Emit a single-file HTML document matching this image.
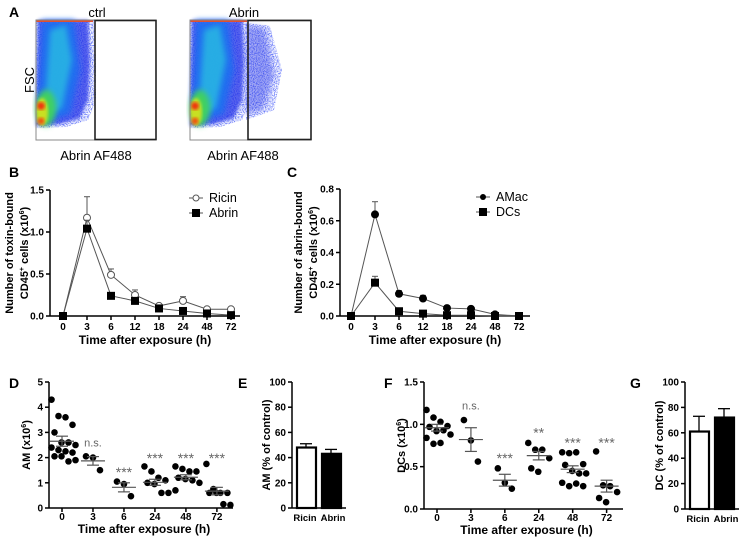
<!DOCTYPE html>
<html><head><meta charset="utf-8"><style>
body{margin:0;background:#fff;font-family:"Liberation Sans",Arial,sans-serif}
svg text{font-family:"Liberation Sans",Arial,sans-serif}
.b{font-weight:bold}
</style></head><body>
<svg id="fig" width="750" height="539" viewBox="0 0 750 539" xmlns="http://www.w3.org/2000/svg">
<defs>
<filter id="bl" x="-20%" y="-20%" width="140%" height="140%"><feGaussianBlur stdDeviation="3"/></filter>
<filter id="bl2"><feGaussianBlur stdDeviation="1.5"/></filter>
<filter id="speck" x="0" y="0" width="100%" height="100%">
<feTurbulence type="fractalNoise" baseFrequency="0.9" numOctaves="1" result="n"/>
<feColorMatrix in="n" type="matrix" values="0 0 0 0 0.1  0 0 0 0 0.15  0 0 0 0 0.95  0 0 0 3 -1.2" result="c"/>
<feComposite in="c" in2="SourceGraphic" operator="in"/>
</filter>
<g id="flowbase">
<polygon points="0,0 58,0 60,40 60,80 52,100 30,107 0,108" fill="#fff" filter="url(#speck)"/>
<polygon points="2,0 52,0 54,40 52,80 44,98 24,104 0,106" fill="#2030e8" opacity="0.75" filter="url(#bl2)"/>
<polygon points="6,0 38,0 44,50 34,94 10,102 2,80" fill="#1a70f0" opacity="0.9" filter="url(#bl)"/>
<polygon points="14,10 30,5 36,40 26,88 8,98" fill="#29c8e0" opacity="0.7" filter="url(#bl)"/>
<ellipse cx="10" cy="88" rx="10" ry="18" fill="#3fd060" filter="url(#bl)"/>
<ellipse cx="6" cy="92" rx="6" ry="14" fill="#c8e020" filter="url(#bl2)"/>
<circle cx="5" cy="86" r="4" fill="#f03010" filter="url(#bl2)"/>
<circle cx="5" cy="101" r="3.5" fill="#f05010" filter="url(#bl2)"/>
<rect x="0" y="0" width="57" height="2" fill="#e05030"/>
</g>
</defs>

<!-- Panel A -->
<text x="9" y="17" class="b" font-size="14">A</text>
<g transform="translate(36,20)">
<use href="#flowbase"/>
<rect x="0" y="0" width="120" height="120" fill="none" stroke="#888" stroke-width="1"/>
<rect x="59" y="0.5" width="61" height="119" fill="none" stroke="#222" stroke-width="1.6"/>
</g>
<g transform="translate(190,20)">
<polygon points="56,3 80,6 92,50 84,90 56,100" fill="#fff" filter="url(#speck)"/>
<polygon points="56,5 75,8 84,55 74,88 56,95" fill="#3040e8" opacity="0.45" filter="url(#bl)"/>
<use href="#flowbase"/>
<rect x="0" y="0" width="121" height="120" fill="none" stroke="#888" stroke-width="1"/>
<rect x="58" y="0.5" width="63" height="119" fill="none" stroke="#222" stroke-width="1.6"/>
</g>
<text x="97" y="17" font-size="13" text-anchor="middle">ctrl</text>
<text x="244" y="17" font-size="13" text-anchor="middle">Abrin</text>
<text x="96" y="160" font-size="13" text-anchor="middle">Abrin AF488</text>
<text x="243" y="160" font-size="13" text-anchor="middle">Abrin AF488</text>
<text transform="translate(34,80) rotate(-90)" font-size="13" text-anchor="middle">FSC</text>

<text x="9" y="177" class="b" font-size="14">B</text>
<text x="287" y="177" class="b" font-size="14">C</text>
<text x="9" y="388" class="b" font-size="14">D</text>
<text x="238" y="388" class="b" font-size="14">E</text>
<text x="384" y="388" class="b" font-size="14">F</text>
<text x="630" y="388" class="b" font-size="14">G</text>
</svg>
<script>
// ---- Panel B data
const bCats=["0","3","6","12","18","24","48","72"];
const bRicin=[0,1.17,0.49,0.25,0.12,0.18,0.08,0.08];
const bRicinErr=[0,0.25,0.07,0.06,0.02,0.05,0.01,0.01];
const bAbrin=[0,1.04,0.24,0.18,0.09,0.06,0.03,0.01];
const bAbrinErr=[0,0.1,0.01,0.02,0.01,0.01,0.01,0.01];
const bTicks=[0,0.5,1.0,1.5];
// ---- Panel C data
const cCats=["0","3","6","12","18","24","48","72"];
const cAMac=[0,0.64,0.14,0.11,0.05,0.045,0.01,0];
const cAMacErr=[0,0.08,0.02,0.02,0.005,0.005,0.005,0];
const cDCs=[0,0.21,0.03,0.015,0.005,0.005,0,0];
const cDCsErr=[0,0.04,0.005,0.005,0,0,0,0];
const cTicks=[0,0.2,0.4,0.6,0.8];
// ---- Panel D data
const dCats=["0","3","6","24","48","72"];
const dPoints=[[4.3,3.65,3.6,3.3,3.0,2.6,2.6,2.5,2.4,2.3,2.25,2.2,2.05,2.05,1.85,1.9],[2.05,2.0,1.5],[1.05,0.95,0.47],[1.65,1.45,1.2,1.1,1.0,0.95,0.6,0.6],[1.65,1.55,1.45,1.45,1.2,1.15,1.1,1.0,0.7],[1.75,0.75,0.6,0.6,0.6,0.6,0.15,0.12]];
const dMean=[2.65,1.87,0.82,1.02,1.22,0.67];
const dSem=[0.2,0.17,0.18,0.12,0.1,0.15];
const dSig=["","n.s.","***","***","***","***"];
const dSigVal=[0,2.6,1.55,2.1,2.1,2.1];
const dTicks=[0,1,2,3,4,5];
// ---- Panel E data
const eCats=["Ricin","Abrin"];
const eVals=[48,43];
const eErr=[3,3.5];
const eTicks=[0,20,40,60,80,100];
// ---- Panel F data
const fCats=["0","3","6","24","48","72"];
const fPoints=[[1.17,1.08,1.03,0.98,0.97,0.92,0.93,0.88,0.84,0.77,0.78],[1.05,0.81,0.56],[0.48,0.31,0.24],[0.78,0.7,0.7,0.6,0.48,0.44],[0.67,0.66,0.67,0.53,0.52,0.45,0.42,0.42,0.31,0.27,0.3,0.27],[0.68,0.28,0.27,0.2,0.13,0.08]];
const fMean=[0.96,0.82,0.34,0.63,0.47,0.27];
const fSem=[0.04,0.14,0.07,0.05,0.04,0.07];
const fSig=["","n.s.","***","**","***","***"];
const fSigVal=[0,1.22,0.64,0.94,0.82,0.82];
const fTicks=[0,0.5,1.0,1.5];
// ---- Panel G data
const gCats=["Ricin","Abrin"];
const gVals=[61,72];
const gErr=[12,7];
const gTicks=[0,20,40,60,80,100];

const svg=document.getElementById('fig');
const NS="http://www.w3.org/2000/svg";
function mk(tag,attrs,parent){const e=document.createElementNS(NS,tag);for(const k in attrs)e.setAttribute(k,attrs[k]);(parent||svg).appendChild(e);return e;}
function txt(x,y,s,size,anchor,bold,parent,fill){const t=mk('text',{x:x,y:y,'font-size':size,'text-anchor':anchor||'middle','font-weight':bold?'bold':'normal',fill:fill||'#000'},parent);t.textContent=s;return t;}

function yAxis(g,x,y0,y1,vmax,ticks,fmt){
  const sc=v=>y0-(v/vmax)*(y0-y1);
  mk('line',{x1:x,y1:y0,x2:x,y2:y1,stroke:'#000','stroke-width':1.5},g);
  ticks.forEach(v=>{const y=sc(v);mk('line',{x1:x-4,y1:y,x2:x,y2:y,stroke:'#000','stroke-width':1.5},g);
    const t=txt(x-6,y+3.5,fmt(v),10,'end',true,g);
    
    });
  return sc;
}

function linePanel(name,ox,x0,x1,y0,y1,cats,s1,e1,s2,e2,ticks,vmax,fmt,m1,m2,leg,legX,ylab1,ylab2,labX){
  const g=mk('g',{});
  
  
  const sc=yAxis(g,x0,y0,y1,vmax,ticks,fmt);
  const step=24; const xs=i=>ox+i*step;
  mk('line',{x1:x0,y1:y0,x2:x1,y2:y0,stroke:'#000','stroke-width':1.5},g);
  cats.forEach((c,i)=>{mk('line',{x1:xs(i),y1:y0,x2:xs(i),y2:y0+4,stroke:'#000','stroke-width':1.5},g);
    const t=txt(xs(i),y0+14,c,10,'middle',true,g);
    
    });
  [[s1,e1,m1],[s2,e2,m2]].forEach(([s,e,m],si)=>{
    const sg=mk('g',{},g);
    
    
    mk('polyline',{points:s.map((v,i)=>xs(i)+','+sc(v)).join(' '),fill:'none',stroke:'#555','stroke-width':1},sg);
    s.forEach((v,i)=>{
      if(e[i]>0){const yt=sc(v+e[i]);mk('line',{x1:xs(i),y1:sc(v),x2:xs(i),y2:yt,stroke:'#555','stroke-width':1},sg);
        mk('line',{x1:xs(i)-3,y1:yt,x2:xs(i)+3,y2:yt,stroke:'#555','stroke-width':1},sg);}
      let p;
      if(m==='sq')p=mk('rect',{x:xs(i)-4,y:sc(v)-4,width:8,height:8,fill:'#000'},sg);
      else if(m==='oc')p=mk('circle',{cx:xs(i),cy:sc(v),r:3.5,fill:'#fff',stroke:'#555','stroke-width':1},sg);
      else p=mk('circle',{cx:xs(i),cy:sc(v),r:4,fill:'#000'},sg);
      
      
    });
  });
  leg.forEach((l,i)=>{const ly=y1+8+i*15;const lg=mk('g',{},g);
    
    
    mk('line',{x1:legX-7,y1:ly,x2:legX+7,y2:ly,stroke:'#555','stroke-width':1},lg);
    const m=i===0?m1:m2;
    if(m==='sq')mk('rect',{x:legX-4,y:ly-4,width:8,height:8,fill:'#000'},lg);
    else if(m==='oc')mk('circle',{cx:legX,cy:ly,r:3,fill:'#fff',stroke:'#555'},lg);
    else mk('circle',{cx:legX,cy:ly,r:3,fill:'#000'},lg);
    txt(legX+13,ly+4,l,12.5,'start',false,lg);});
  const xt=txt((x0+x1)/2,y0+28,'Time after exposure (h)',12,'middle',true,g);
  
  
  const yt=mk('text',{transform:`translate(${labX},${(y0+y1)/2}) rotate(-90)`,'font-size':11,'font-weight':'bold','text-anchor':'middle'},g);
  
  
  const t1=mk('tspan',{x:0,dy:0},yt);t1.textContent=ylab1;
  const t2=mk('tspan',{x:0,dy:15},yt);t2.innerHTML=ylab2;
}
linePanel('chart-b',63,50,240,316,190,bCats,bRicin,bRicinErr,bAbrin,bAbrinErr,bTicks,1.5,v=>v.toFixed(1),'oc','sq',['Ricin','Abrin'],196,'Number of toxin-bound','CD45<tspan font-size="7" dy="-4">+</tspan><tspan dy="4"> cells (x10</tspan><tspan font-size="7" dy="-4">6</tspan><tspan dy="4">)</tspan>',13);
linePanel('chart-c',351,340,530,316,189,cCats,cAMac,cAMacErr,cDCs,cDCsErr,cTicks,0.8,v=>v.toFixed(1),'fc','sq',['AMac','DCs'],483,'Number of abrin-bound','CD45<tspan font-size="7" dy="-4">+</tspan><tspan dy="4"> cells (x10</tspan><tspan font-size="7" dy="-4">6</tspan><tspan dy="4">)</tspan>',302);

function scatterPanel(name,x0,x1,y0,y1,xsArr,pts,mean,sem,sig,sigV,ticks,vmax,fmt,ylab,labX){
  const g=mk('g',{});
  
  
  const sc=yAxis(g,x0,y0,y1,vmax,ticks,fmt);
  mk('line',{x1:x0,y1:y0,x2:x1,y2:y0,stroke:'#000','stroke-width':1.5},g);
  const stp=(x1-x0-26)/5.1;
  xsArr.forEach((c,i)=>{const cx=x0+13+i*stp;
    mk('line',{x1:cx,y1:y0,x2:cx,y2:y0+4,stroke:'#000','stroke-width':1.5},g);
    const t=txt(cx,y0+12,c,10,'middle',true,g);
    
    
    const n=pts[i].length;
    pts[i].forEach((v,j)=>{const off=n>3?((j%4)-1.5)*7+((j>>2)%2?3:0):(j-1)*7;
      const p=mk('circle',{cx:cx+off,cy:sc(v),r:3.3,fill:'#000'},g);
      
      });
    const m=sc(mean[i]),hi=sc(mean[i]+sem[i]),lo=sc(mean[i]-sem[i]);
    mk('line',{x1:cx-12,y1:m,x2:cx+12,y2:m,stroke:'#555','stroke-width':1.2},g);
    mk('line',{x1:cx,y1:hi,x2:cx,y2:lo,stroke:'#555','stroke-width':1.2},g);
    mk('line',{x1:cx-6,y1:hi,x2:cx+6,y2:hi,stroke:'#555','stroke-width':1.2},g);
    mk('line',{x1:cx-6,y1:lo,x2:cx+6,y2:lo,stroke:'#555','stroke-width':1.2},g);
    if(sig[i]){const s=txt(cx,sc(sigV[i])+(sig[i]==='n.s.'?4:8),sig[i],sig[i]==='n.s.'?11:14,'middle',false,g,'#666');
      
      }
  });
  const xt=txt((x0+x1)/2+3,y0+25,'Time after exposure (h)',12,'middle',true,g);
  
  
  const yt=mk('text',{transform:`translate(${labX},${(y0+y1)/2}) rotate(-90)`,'font-size':11,'font-weight':'bold','text-anchor':'middle'},g);
  
  
  yt.innerHTML=ylab;
}
scatterPanel('chart-d',49,233,508,382,dCats,dPoints,dMean,dSem,dSig,dSigVal,dTicks,5,v=>String(v),'AM (x10<tspan font-size="7" dy="-4">6</tspan><tspan dy="4">)</tspan>',30);
scatterPanel('chart-f',424,623,509,382,fCats,fPoints,fMean,fSem,fSig,fSigVal,fTicks,1.5,v=>v.toFixed(1),'DCs (x10<tspan font-size="7" dy="-4">6</tspan><tspan dy="4">)</tspan>',405);

function barPanel(name,x0,y0,y1,cats,vals,err,ticks,ylab,labX){
  const g=mk('g',{});
  
  
  const sc=yAxis(g,x0,y0,y1,100,ticks,v=>String(v));
  mk('line',{x1:x0,y1:y0,x2:x0+54,y2:y0,stroke:'#000','stroke-width':1.5},g);
  cats.forEach((c,i)=>{const bx=x0+4+i*25;
    const top=sc(vals[i]+err[i]);
    mk('line',{x1:bx+10,y1:sc(vals[i]),x2:bx+10,y2:top,stroke:'#000','stroke-width':1.3},g);
    mk('line',{x1:bx+4,y1:top,x2:bx+16,y2:top,stroke:'#000','stroke-width':1.3},g);
    const r=mk('rect',{x:bx+1,y:sc(vals[i]),width:19,height:y0-sc(vals[i]),fill:i===0?'#fff':'#000',stroke:'#000','stroke-width':2.2},g);
    
    
    const t=txt(bx+10+(i===0?-1:2),y0+13,c,9.5,'middle',true,g);
    
    
  });
  const yt=mk('text',{transform:`translate(${labX},${(y0+y1)/2}) rotate(-90)`,'font-size':11,'font-weight':'bold','text-anchor':'middle'},g);
  
  
  yt.textContent=ylab;
}
barPanel('chart-e',292,508,382,eCats,eVals,eErr,eTicks,'AM (% of control)',270);
barPanel('chart-g',685,509,382,gCats,gVals,gErr,gTicks,'DC (% of control)',663);
</script>
</body></html>
